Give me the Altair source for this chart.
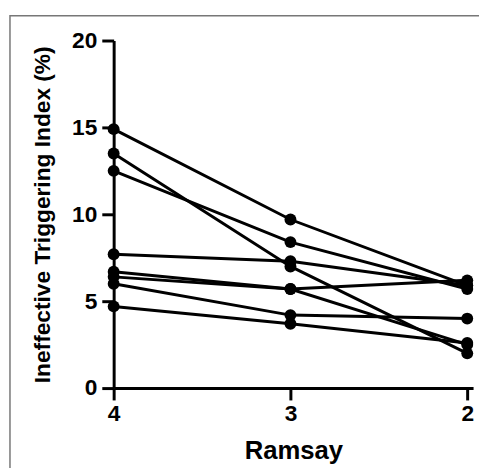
import altair as alt
import pandas as pd

# Data
patients = ["P1", "P2", "P3", "P4", "P5", "P6", "P7", "P8"]
ramsay_levels = [4, 3, 2]
iti_ramsay4 = [14.9, 13.5, 12.5, 7.7, 6.7, 6.4, 6.0, 4.7]
iti_ramsay3 = [9.7, 7.0, 8.4, 7.3, 5.7, 5.7, 4.2, 3.7]
iti_ramsay2 = [5.9, 2.0, 5.7, 5.9, 6.2, 2.5, 4.0, 2.6]
y_ticks = [0, 5, 10, 15, 20]

rows = []
for i, p in enumerate(patients):
    for lvl, vals in zip(ramsay_levels, [iti_ramsay4, iti_ramsay3, iti_ramsay2]):
        rows.append({"patient": p, "ramsay": lvl, "iti": vals[i]})
df = pd.DataFrame(rows)

FONT = "Liberation Sans"

x_enc = alt.X(
    "ramsay:Q",
    scale=alt.Scale(domain=[1.967, 4], reverse=True, nice=False, zero=False),
    axis=alt.Axis(values=ramsay_levels, format=".0f", title="Ramsay",
                  labelPadding=3, titlePadding=12, titleFontSize=26,
                  labelOverlap=False, labelFlush=False, labelBound=False),
)
y_enc = alt.Y(
    "iti:Q",
    scale=alt.Scale(domain=[0, 20], nice=False),
    axis=alt.Axis(values=y_ticks, format=".0f", title="Ineffective Triggering Index (%)",
                  labelPadding=5, titlePadding=17, titleFontSize=23,
                  labelOverlap=False, labelFlush=False),
)

base = alt.Chart(df)
lines = base.mark_line(color="black", strokeWidth=3).encode(
    x=x_enc, y=y_enc, detail="patient:N"
)
points = base.mark_circle(color="black", opacity=1, size=145).encode(
    x="ramsay:Q", y="iti:Q"
)

border = alt.Chart(pd.DataFrame({"a": [0]})).mark_rect(
    fill="transparent", stroke="#777777", strokeWidth=1.5
).encode(
    x=alt.value(-105), y=alt.value(-25), x2=alt.value(700), y2=alt.value(700)
)

chart = alt.layer(border, lines, points).properties(
    width=364,
    height=352,
    padding={"left": 107, "top": 30, "right": 6, "bottom": 78},
    autosize=alt.AutoSizeParams(type="none"),
).configure_view(
    strokeWidth=0
).configure_axis(
    grid=False,
    domainColor="black",
    domainWidth=3,
    tickColor="black",
    tickWidth=3,
    tickSize=12,
    labelFont=FONT,
    labelFontWeight="bold",
    labelFontSize=23,
    labelColor="black",
    titleFont=FONT,
    titleFontWeight="bold",
    titleColor="black",
)

chart.save("out.html", embed_options={"renderer": "svg", "actions": False})
